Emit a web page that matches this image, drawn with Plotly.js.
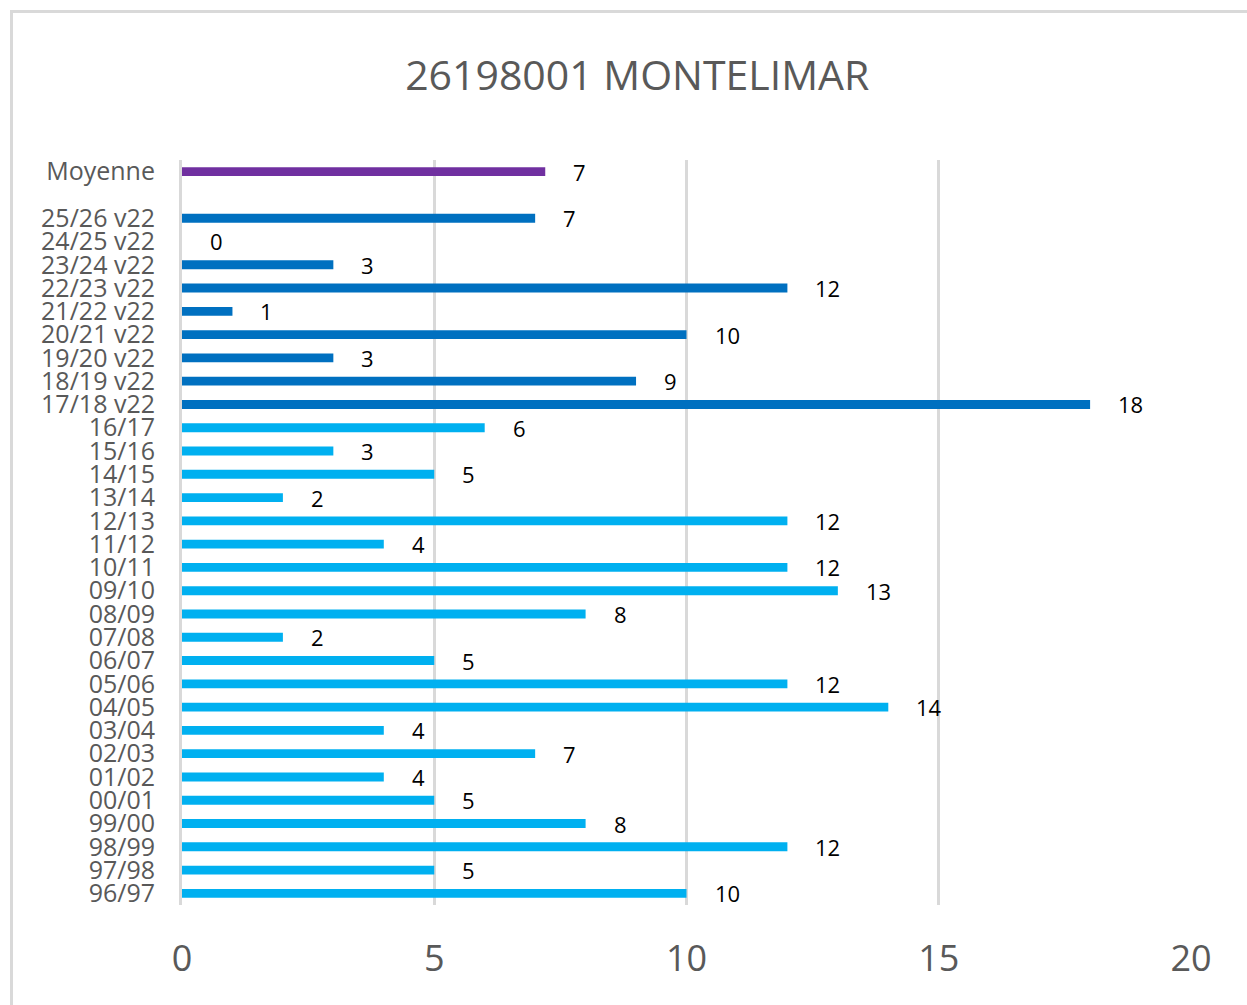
<!DOCTYPE html>
<html>
<head>
<meta charset="utf-8">
<script src="https://cdn.plot.ly/plotly-3.0.1.min.js"></script>
<style>
  html, body { margin:0; padding:0; background:#fff; overflow:hidden; }
  #frame { position:absolute; left:10px; top:10px; width:1300px; height:1100px; border:3px solid #d9d9d9; box-sizing:border-box; }
  #chart { position:absolute; left:0; top:0; width:1247px; height:1005px; }
</style>
</head>
<body>
<div id="frame"></div>
<div id="chart"></div>
<script>
// Seasons before the v22 version (bottom of chart upward)
const oldSeasons = ["96/97","97/98","98/99","99/00","00/01","01/02","02/03","03/04","04/05","05/06","06/07","07/08","08/09","09/10","10/11","11/12","12/13","13/14","14/15","15/16","16/17"];
const oldValues  = [10, 5, 12, 8, 5, 4, 7, 4, 14, 12, 5, 2, 8, 13, 12, 4, 12, 2, 5, 3, 6];

// Seasons in v22
const v22Seasons = ["17/18 v22","18/19 v22","19/20 v22","20/21 v22","21/22 v22","22/23 v22","23/24 v22","24/25 v22","25/26 v22"];
const v22Values  = [18, 9, 3, 10, 1, 12, 3, 0, 7];

// Average
const avgLabel = ["Moyenne"];
const avgValue = [7.2];
const avgText  = ["7"];

const gapCategory = " ";
const categoryOrder = oldSeasons.concat(v22Seasons, [gapCategory], avgLabel);

const titleText = "26198001 MONTELIMAR";
const xTicks = [0, 5, 10, 15, 20];

const grey = "#595959";
const barW = 0.38;

const traces = [
  { type:"bar", orientation:"h", y:oldSeasons, x:oldValues, marker:{color:"#00B0F0"}, width:barW, hoverinfo:"x+y" },
  { type:"bar", orientation:"h", y:v22Seasons, x:v22Values, marker:{color:"#0070C0"}, width:barW, hoverinfo:"x+y" },
  { type:"bar", orientation:"h", y:avgLabel, x:avgValue, marker:{color:"#7030A0"}, width:barW, hoverinfo:"x+y" }
];

const annotations = [];
function addLabels(cats, vals, texts) {
  cats.forEach((c, i) => {
    annotations.push({
      x: vals[i], y: c, xref:"x", yref:"y",
      text: texts ? texts[i] : String(vals[i]),
      showarrow:false, xanchor:"left", yanchor:"middle",
      xshift: 26, yshift: 0,
      font:{family:"Open Sans, sans-serif", size:22, color:"#000000"}
    });
  });
}
addLabels(oldSeasons, oldValues);
addLabels(v22Seasons, v22Values);
addLabels(avgLabel, avgValue, avgText);

const layout = {
  width:1247, height:1005,
  paper_bgcolor:"rgba(0,0,0,0)", plot_bgcolor:"rgba(0,0,0,0)",
  margin:{l:182, r:56, t:160, b:100, pad:0},
  showlegend:false,
  barmode:"overlay",
  title:{
    text:titleText, x:0.511, xref:"container", xanchor:"center",
    y:1-76/1005, yref:"container", yanchor:"middle",
    font:{family:"Open Sans, sans-serif", size:41, color:grey}
  },
  xaxis:{
    range:[0,20], tickmode:"array", tickvals:xTicks, ticktext:xTicks.map(String),
    showgrid:true, gridcolor:"#d9d9d9", gridwidth:3,
    zeroline:false, showline:false,
    ticks:"outside", ticklen:22, tickcolor:"rgba(0,0,0,0)",
    tickfont:{family:"Open Sans, sans-serif", size:36, color:grey},
    fixedrange:true
  },
  yaxis:{
    type:"category", categoryorder:"array", categoryarray:categoryOrder,
    tickmode:"array", tickvals:categoryOrder, ticktext:categoryOrder,
    range:[-0.5, categoryOrder.length-0.5],
    showgrid:false, zeroline:false,
    showline:true, linecolor:"#d9d9d9", linewidth:3,
    ticks:"outside", ticklen:19, tickcolor:"rgba(0,0,0,0)",
    tickfont:{family:"Open Sans, sans-serif", size:25, color:grey},
    fixedrange:true
  },
  annotations:annotations
};

Plotly.newPlot("chart", traces, layout, {displayModeBar:false, staticPlot:true});
</script>
</body>
</html>
